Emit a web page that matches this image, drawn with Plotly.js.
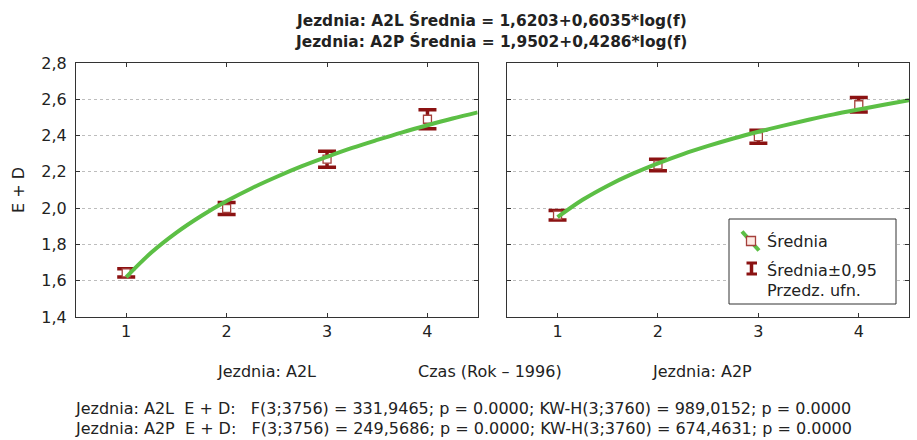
<!DOCTYPE html>
<html>
<head>
<meta charset="utf-8">
<script src="https://cdn.plot.ly/plotly-3.0.1.min.js"></script>
<style>html,body{margin:0;padding:0;background:#fff}#chart{width:917px;height:440px}</style>
</head>
<body>
<div id="chart"></div>
<script>
// Categories (Czas: Rok - 1996)
const years = [1, 2, 3, 4];
// Means and ±0.95 confidence half-widths
const meanA2L = [1.643, 1.998, 2.270, 2.490];
const ciA2L   = [0.023, 0.033, 0.044, 0.052];
const meanA2P = [1.961, 2.238, 2.394, 2.570];
const ciA2P   = [0.026, 0.032, 0.036, 0.040];
// Fitted curve values
const fitX    = [1, 1.25, 1.5, 1.75, 2, 2.25, 2.5, 2.75, 3, 3.25, 3.5, 3.75, 4, 4.25, 4.5];
const fitA2L  = [1.620, 1.755, 1.865, 1.958, 2.039, 2.110, 2.173, 2.231, 2.283, 2.332, 2.376, 2.418, 2.457, 2.494, 2.528];
const fitA2P  = [1.950, 2.046, 2.124, 2.190, 2.247, 2.298, 2.343, 2.384, 2.421, 2.455, 2.487, 2.517, 2.544, 2.570, 2.595];
const yTicks  = [1.4, 1.6, 1.8, 2.0, 2.2, 2.4, 2.6, 2.8];
const titleLines = ['Jezdnia: A2L Średnia = 1,6203+0,6035*log(f)', 'Jezdnia: A2P Średnia = 1,9502+0,4286*log(f)'];
const xLabels = ['Jezdnia: A2L', 'Czas (Rok – 1996)', 'Jezdnia: A2P'];
const legendNames = ['Średnia', 'Średnia±0,95', 'Przedz. ufn.'];
const footerLines = [
  'Jezdnia: A2L  E + D:   F(3;3756) = 331,9465; p = 0.0000; KW-H(3;3760) = 989,0152; p = 0.0000',
  'Jezdnia: A2P  E + D:   F(3;3756) = 249,5686; p = 0.0000; KW-H(3;3760) = 674,4631; p = 0.0000'
];

const RED = '#8b1212';
const MRED = '#a5403c';
const GREEN = '#5cbf45';
const FONT = 'DejaVu Sans, Verdana, sans-serif';
const TXT = '#222';

// page pixel -> paper coords helpers (plot area: x 76..909, y 63..316.7)
const L = 76, R = 8, T = 63, B = 123, W = 917, H = 440;
const PW = W - L - R, PH = H - T - B;
const px = v => (v - L) / PW;
const py = v => (H - B - v) / PH;

function meanTrace(means, ci, xa, ya) {
  return {
    x: years, y: means, xaxis: xa, yaxis: ya, type: 'scatter', mode: 'markers',
    marker: {symbol: 'square', size: 8, color: '#fff', line: {color: MRED, width: 1.3}},
    error_y: {type: 'data', array: ci, visible: true, color: RED, thickness: 3.5, width: 9},
    showlegend: false, hoverinfo: 'skip'
  };
}
function fitTrace(ys, xa, ya) {
  return {
    x: fitX, y: ys, xaxis: xa, yaxis: ya, type: 'scatter', mode: 'lines',
    line: {color: GREEN, width: 4, shape: 'spline'}, showlegend: false, hoverinfo: 'skip'
  };
}

const data = [
  meanTrace(meanA2L, ciA2L, 'x', 'y'),
  fitTrace(fitA2L, 'x', 'y'),
  meanTrace(meanA2P, ciA2P, 'x2', 'y2'),
  fitTrace(fitA2P, 'x2', 'y2')
];

const axX = {
  range: [0.5, 4.5], tickvals: years, ticks: 'inside', ticklen: 4, tickcolor: '#333',
  showline: true, linecolor: '#333', linewidth: 1, mirror: 'ticks', showgrid: false, zeroline: false,
  tickfont: {family: FONT, size: 16, color: TXT}
};
const axY = {
  range: [1.4, 2.8], tickvals: yTicks, tickformat: '.1f', ticks: 'inside', ticklen: 4, tickcolor: '#333',
  showline: true, linecolor: '#333', linewidth: 1, mirror: 'ticks', showgrid: true,
  gridcolor: '#bdbdbd', griddash: 'dot', gridwidth: 1, zeroline: false, ticklabelstandoff: 5,
  tickfont: {family: FONT, size: 16, color: TXT}
};

function ann(text, x, y, extra) {
  return Object.assign({text: text, xref: 'paper', yref: 'paper', x: px(x), y: py(y),
    xanchor: 'center', yanchor: 'middle', showarrow: false,
    font: {family: FONT, size: 16, color: TXT}}, extra || {});
}
const boldFont = {family: FONT, size: 15.4, color: TXT};

const annotations = [
  ann('<b>' + titleLines[0] + '</b>', 491, 20, {font: boldFont}),
  ann('<b>' + titleLines[1] + '</b>', 491, 42, {font: boldFont}),
  ann('E + D', 18, 190, {textangle: -90}),
  ann(xLabels[0], 266, 371),
  ann(xLabels[1], 490, 371),
  ann(xLabels[2], 702, 371),
  ann(footerLines[0], 463, 408),
  ann(footerLines[1], 463, 428),
  ann(legendNames[0], 765, 241, {xanchor: 'left'}),
  ann(legendNames[1], 765, 270, {xanchor: 'left'}),
  ann(legendNames[2], 765, 290, {xanchor: 'left'})
];

const ps = (o) => Object.assign({xref: 'paper', yref: 'paper'}, o);
const shapes = [
  ps({type: 'rect', x0: px(729), x1: px(896), y0: py(219), y1: py(304), line: {color: '#333', width: 1}, fillcolor: '#fff', layer: 'above'}),
  ps({type: 'line', x0: px(742), y0: py(231.5), x1: px(759), y1: py(250.5), line: {color: GREEN, width: 4}, layer: 'above'}),
  ps({type: 'rect', x0: px(746.5), x1: px(755.5), y0: py(236.5), y1: py(245.5), line: {color: MRED, width: 1.3}, fillcolor: '#fde9e3', layer: 'above'}),
  ps({type: 'line', x0: px(751.5), y0: py(262), x1: px(751.5), y1: py(275), line: {color: RED, width: 3.5}, layer: 'above'}),
  ps({type: 'line', x0: px(746.5), y0: py(263), x1: px(757), y1: py(263), line: {color: RED, width: 3}, layer: 'above'}),
  ps({type: 'line', x0: px(746.5), y0: py(274), x1: px(757), y1: py(274), line: {color: RED, width: 3}, layer: 'above'})
];

const layout = {
  width: W, height: H,
  margin: {l: L, r: R, t: T, b: B},
  paper_bgcolor: '#fff', plot_bgcolor: '#fff',
  separators: ', ',
  font: {family: FONT, size: 16, color: TXT},
  xaxis: Object.assign({}, axX, {domain: [0, 0.4822], anchor: 'y'}),
  yaxis: Object.assign({}, axY, {anchor: 'x'}),
  xaxis2: Object.assign({}, axX, {domain: [0.5178, 1], anchor: 'y2'}),
  yaxis2: Object.assign({}, axY, {anchor: 'x2', showticklabels: false}),
  showlegend: false,
  annotations: annotations,
  shapes: shapes
};

Plotly.newPlot('chart', data, layout, {staticPlot: true, displayModeBar: false});
</script>
</body>
</html>
